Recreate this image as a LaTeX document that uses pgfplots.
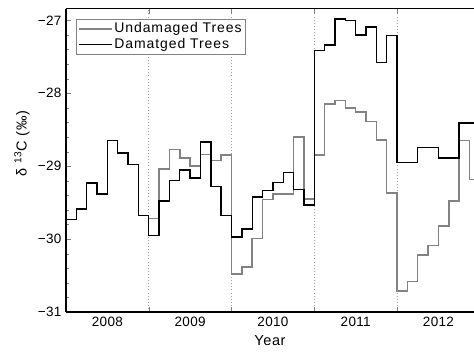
\documentclass[border=0pt]{standalone}
\usepackage{pgfplots}
\pgfplotsset{compat=1.18}
\usepackage{fontspec}
\setmainfont{Liberation Sans}
\definecolor{lgray}{RGB}{130,130,130}
\begin{document}
\fontsize{13.5}{16}\selectfont
\begin{tikzpicture}
\begin{axis}[
  scale only axis,
  width=408pt, height=303.3pt,
  xmin=2007.5, xmax=2012.43,
  ymin=-31, ymax=-26.84,
  axis x line=box,
  axis y line=left,
  y axis line style={-},
  x axis line style={-},
  axis line style={line width=1.1pt},
  tick align=inside,
  xtick={2008.5,2009.5,2010.5,2011.5},
  xticklabels={},
  major tick length=5pt,
  minor tick length=3pt,
  xmajorgrids,
  major x grid style={dash pattern=on 0.9pt off 2.2pt, gray!75, line width=0.8pt},
  extra x ticks={2008,2009,2010,2011,2012},
  extra x tick labels={2008,2009,2010,2011,2012},
  extra x tick style={major tick length=0pt, grid=none},
  ytick={-31,-30,-29,-28,-27},
  yticklabels={−31,−30,−29,−28,−27},
  minor y tick num=4,
  /pgf/number format/assume math mode=true,
  tick label style={font=\fontsize{13.5}{16}\selectfont\addfontfeature{LetterSpace=2}},
  xlabel={Year},
  ylabel={δ \textsuperscript{13}C (‰)},
  every axis y label/.style={at={(axis description cs:-0.108,0.555)},rotate=90,anchor=center},
  every axis x label/.style={at={(axis description cs:0.5,-0.095)},anchor=center},
  label style={font=\fontsize{14.5}{16}\selectfont\addfontfeature{LetterSpace=4}},
  legend style={at={(rel axis cs:0.025,0.966)}, anchor=north west, draw=lgray,
    font=\fontsize{14}{16}\selectfont\addfontfeature{LetterSpace=6.5}, inner sep=1.5pt, row sep=-0.5pt},
  legend cell align=left,
  legend image code/.code={\draw[#1] (0pt,0pt) -- (33pt,0pt);},
]
\addplot[const plot, lgray, line width=1.5pt] coordinates {
(2008.500,-29.72) (2008.625,-29.04) (2008.750,-28.77) (2008.875,-28.89)
(2009.000,-29.00) (2009.125,-28.84) (2009.250,-28.92) (2009.375,-28.85)
(2009.500,-30.48) (2009.625,-30.38) (2009.750,-29.99) (2009.875,-29.46)
(2010.000,-29.38) (2010.125,-29.38) (2010.250,-28.60) (2010.375,-29.45)
(2010.500,-28.85) (2010.625,-28.15) (2010.750,-28.10) (2010.875,-28.20)
(2011.000,-28.26) (2011.125,-28.39) (2011.250,-28.64) (2011.375,-29.37)
(2011.500,-30.71) (2011.625,-30.58) (2011.750,-30.22) (2011.875,-30.09)
(2012.000,-29.82) (2012.125,-29.48) (2012.250,-28.65) (2012.375,-29.18)
(2012.500,-29.18)
};
\addlegendentry{Undamaged Trees}
\addplot[const plot, black, line width=1.4pt] coordinates {
(2007.500,-29.73) (2007.625,-29.59) (2007.750,-29.23) (2007.875,-29.38)
(2008.000,-28.65) (2008.125,-28.82) (2008.250,-28.98) (2008.375,-29.68)
(2008.500,-29.95) (2008.625,-29.48) (2008.750,-29.20) (2008.875,-29.05)
(2009.000,-29.16) (2009.125,-28.67) (2009.250,-29.28) (2009.375,-29.68)
(2009.500,-29.97) (2009.625,-29.86) (2009.750,-29.42) (2009.875,-29.33)
(2010.000,-29.22) (2010.125,-29.09) (2010.250,-29.32) (2010.375,-29.53)
(2010.500,-27.41) (2010.625,-27.34) (2010.750,-26.98) (2010.875,-27.00)
(2011.000,-27.20) (2011.125,-27.09) (2011.250,-27.58) (2011.375,-27.21)
(2011.500,-28.95) (2011.625,-28.95) (2011.750,-28.74) (2011.875,-28.74)
(2012.000,-28.89) (2012.125,-28.89) (2012.250,-28.41) (2012.375,-28.41)
(2012.500,-28.41)
};
\addlegendentry{Damatged Trees}
\coordinate (bl) at (rel axis cs:0,0);
\end{axis}
\pgfresetboundingbox
\path ([shift={(-66pt,-39pt)}]bl) rectangle ++(474pt,351pt);
\end{tikzpicture}
\end{document}
